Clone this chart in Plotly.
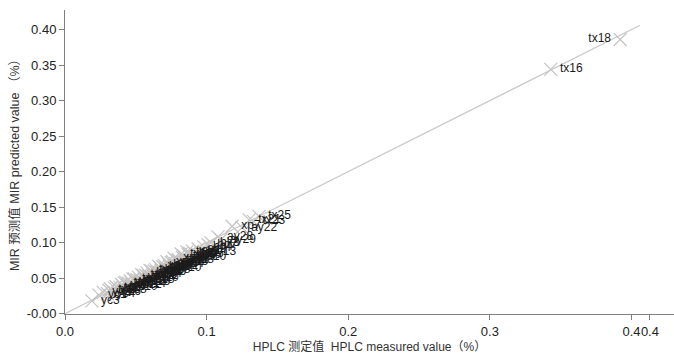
import plotly.graph_objects as go

names = [
    "yc3", "yc1", "yc2", "yc4", "yc5", "yc6", "yc7", "yc8", "yc9", "yc10",
    "yc11", "yc12", "yc13", "yc14", "yc15", "yc16", "yc17", "yc18", "yc19", "yc20",
    "hb1", "hb2", "hb3", "hb4", "hb5", "hb6", "hb7", "hb8", "hb9", "hb10",
    "sd1", "sd2", "sd3", "sd4", "sd5", "sd6", "sd7", "sd8", "sd9", "sd10",
    "tx1", "tx2", "tx4", "tx5", "tx6", "tx7", "tx8", "tx9", "tx10", "tx11",
    "xp1", "xp2", "xp3", "xp4", "xp5", "xp6", "tx12", "tx13", "tx14", "tx15",
    "ay1", "ay5", "ay9", "ay13", "hq4", "hq7", "ay28", "ay29", "bk3", "hq2",
    "xp7", "ay22", "tx21", "tx23", "tx25", "tx16", "tx18",
]
hplc = [
    0.019, 0.024, 0.027, 0.030, 0.032, 0.034, 0.036, 0.038, 0.040, 0.041,
    0.043, 0.044, 0.046, 0.047, 0.049, 0.050, 0.052, 0.053, 0.055, 0.056,
    0.058, 0.059, 0.061, 0.062, 0.064, 0.065, 0.067, 0.068, 0.070, 0.071,
    0.073, 0.074, 0.076, 0.078, 0.080, 0.081, 0.083, 0.085, 0.087, 0.089,
    0.031, 0.035, 0.039, 0.042, 0.045, 0.048, 0.051, 0.054, 0.057, 0.060,
    0.063, 0.066, 0.069, 0.072, 0.075, 0.077, 0.079, 0.082, 0.084, 0.086,
    0.090, 0.092, 0.094, 0.096, 0.098, 0.101, 0.108, 0.110, 0.103, 0.088,
    0.118, 0.125, 0.130, 0.133, 0.137, 0.343, 0.392,
]
mir = [
    0.018, 0.026, 0.030, 0.028, 0.035, 0.031, 0.038, 0.034, 0.041, 0.037,
    0.044, 0.040, 0.046, 0.042, 0.049, 0.045, 0.051, 0.047, 0.054, 0.050,
    0.057, 0.053, 0.060, 0.056, 0.062, 0.058, 0.065, 0.061, 0.068, 0.064,
    0.070, 0.067, 0.073, 0.070, 0.076, 0.073, 0.079, 0.076, 0.083, 0.080,
    0.033, 0.036, 0.037, 0.043, 0.043, 0.049, 0.048, 0.055, 0.054, 0.061,
    0.060, 0.067, 0.066, 0.073, 0.072, 0.078, 0.075, 0.084, 0.081, 0.087,
    0.088, 0.084, 0.091, 0.087, 0.094, 0.097, 0.108, 0.104, 0.100, 0.085,
    0.123, 0.121, 0.132, 0.130, 0.137, 0.344, 0.386,
]
text_pos = ["middle right"] * 76 + ["middle left"]
line_end = [0.0, 0.406]

fig = go.Figure()
fig.add_trace(go.Scatter(
    x=line_end, y=line_end, mode="lines",
    line=dict(color="#c8c8c8", width=1.2), hoverinfo="skip", showlegend=False,
))
fig.add_trace(go.Scatter(
    x=hplc, y=mir, mode="markers+text", text=names, textposition=text_pos,
    marker=dict(symbol="x-thin-open", size=13, color="#c4c4c4",
                line=dict(color="#c4c4c4", width=1.2)),
    textfont=dict(family="Liberation Sans, Arial, sans-serif", size=12, color="#1a1a1a"),
    showlegend=False,
))

font_main = "Liberation Sans, Arial, Noto Sans CJK SC, sans-serif"
fig.update_layout(
    width=674, height=357,
    margin=dict(l=65, r=0, t=10, b=43),
    paper_bgcolor="white", plot_bgcolor="white",
    font=dict(family=font_main, size=13, color="#222"),
    xaxis=dict(
        range=[0, 0.43], tickvals=[0, 0.1, 0.2, 0.3, 0.4, 0.413],
        ticktext=["0.0", "0.1", "0.2", "0.3", "0.4", "0.4"], tickangle=0,
        showgrid=False, zeroline=False, showline=True, linecolor="#808080",
        ticks="outside", ticklen=5, tickcolor="#808080",
        tickfont=dict(size=13, color="#222"),
        title=dict(text="HPLC 测定值  HPLC measured value（%）",
                   font=dict(size=12, color="#333"), standoff=2),
    ),
    yaxis=dict(
        range=[-0.0005, 0.4275],
        tickvals=[0, 0.05, 0.1, 0.15, 0.2, 0.25, 0.3, 0.35, 0.4],
        ticktext=["-0.00", "0.05", "0.10", "0.15", "0.20", "0.25", "0.30", "0.35", "0.40"],
        showgrid=False, zeroline=False, showline=True, linecolor="#808080",
        ticks="outside", ticklen=5, tickcolor="#808080",
        tickfont=dict(size=13, color="#222"),
        title=dict(text="MIR 预测值 MIR predicted value （%）",
                   font=dict(size=12.5, color="#333"), standoff=4),
    ),
)
fig.write_html("out.html")
